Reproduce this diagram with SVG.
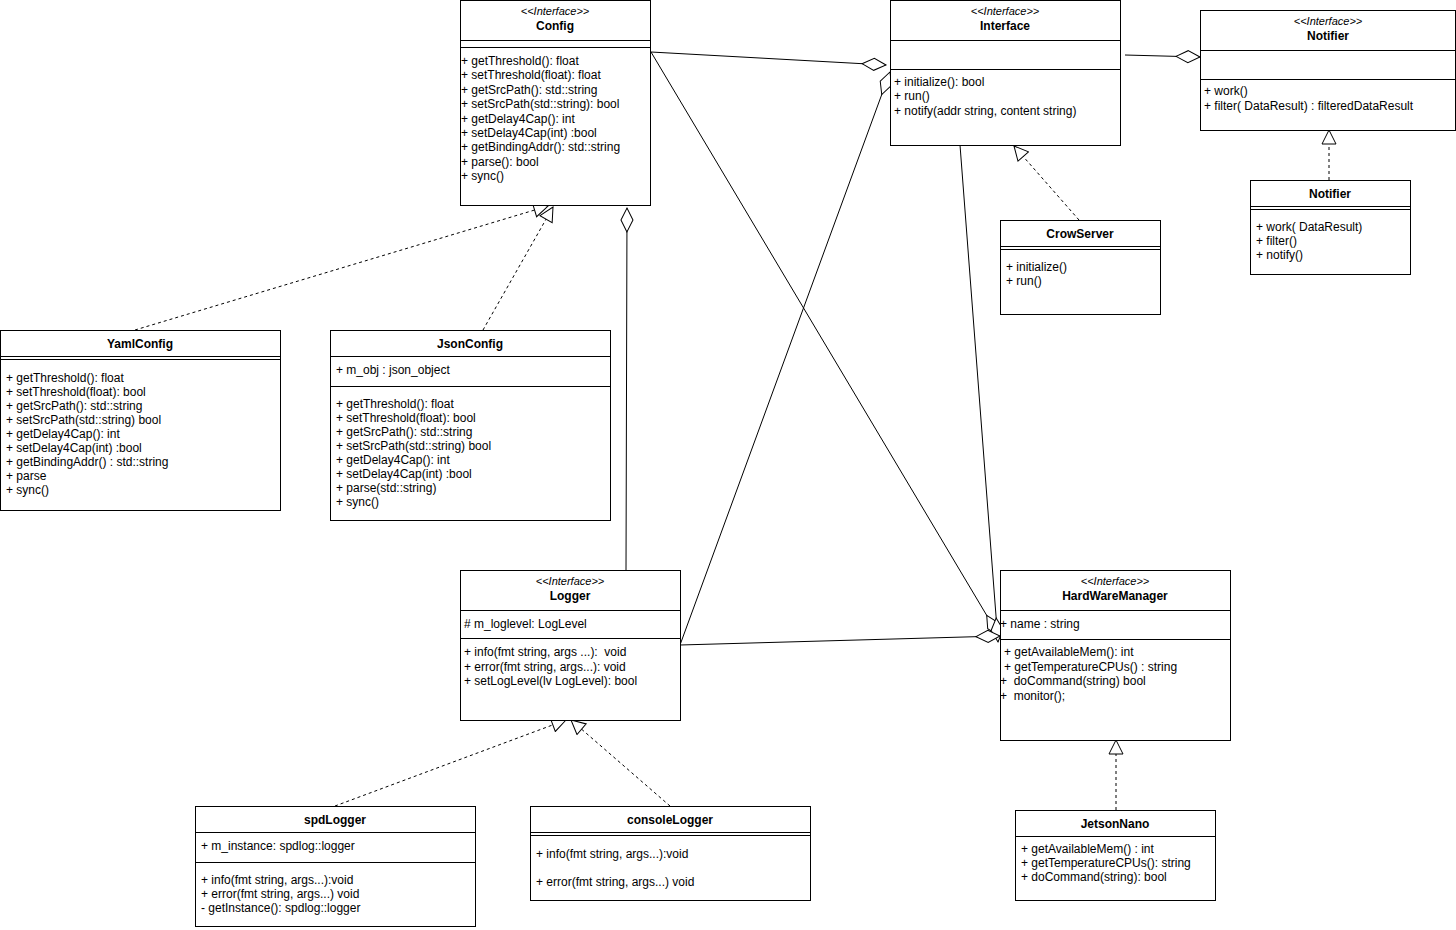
<svg xmlns="http://www.w3.org/2000/svg" width="1456" height="930" viewBox="0 0 1456 930">
<defs>
<style>
.box{fill:#fff;stroke:#000;stroke-width:1}
.sep{stroke:#000;stroke-width:1}
text{font-family:"Liberation Sans",Arial,sans-serif;font-size:12px;fill:#000;white-space:pre}
.st{font-style:italic;font-size:11px;text-anchor:middle}
.ti{font-weight:bold;text-anchor:middle}
.c{fill:none;stroke:#000;stroke-width:1}
.d{stroke-dasharray:3,3}
</style>
<marker id="tri" markerUnits="userSpaceOnUse" markerWidth="18" markerHeight="16" viewBox="0 0 18 16" refX="16" refY="8" orient="auto">
<path d="M2,1 L16,8 L2,15 Z" fill="#fff" stroke="#000" stroke-width="1"/>
</marker>
<marker id="dia" markerUnits="userSpaceOnUse" markerWidth="28" markerHeight="16" viewBox="0 0 28 16" refX="26" refY="8" orient="auto">
<path d="M2,8 L14,2 L26,8 L14,14 Z" fill="#fff" stroke="#000" stroke-width="1"/>
</marker>
</defs>

<g id="connectors">
<path class="c d" d="M135,330 L548,206" marker-end="url(#tri)"/>
<path class="c d" d="M483,330 L553,207" marker-end="url(#tri)"/>
<path class="c" d="M626,570 L627,208" marker-end="url(#dia)"/>
<path class="c" d="M651,52 L886,65" marker-end="url(#dia)"/>
<path class="c" d="M680,645 L890,72" marker-end="url(#dia)"/>
<path class="c" d="M651,52 L999,636" marker-end="url(#dia)"/>
<path class="c" d="M960,145 L998,642" marker-end="url(#dia)"/>
<path class="c" d="M680,645 L1000,636" marker-end="url(#dia)"/>
<path class="c d" d="M1079,220 L1014,146" marker-end="url(#tri)"/>
<path class="c" d="M1125,55 L1200,57" marker-end="url(#dia)"/>
<path class="c d" d="M1329,180 L1329,130" marker-end="url(#tri)"/>
<path class="c d" d="M1116,810 L1116,740" marker-end="url(#tri)"/>
<path class="c d" d="M335,806 L566,720" marker-end="url(#tri)"/>
<path class="c d" d="M670,806 L571,720" marker-end="url(#tri)"/>
</g>

<g id="config">
<rect class="box" x="460.5" y="0.5" width="190" height="205"/>
<line class="sep" x1="460.5" y1="40.5" x2="650.5" y2="40.5"/>
<line class="sep" x1="460.5" y1="47.5" x2="650.5" y2="47.5"/>
<text class="st" x="555" y="15">&lt;&lt;Interface&gt;&gt;</text>
<text class="ti" x="555" y="30">Config</text>
<text x="461" y="65">+ getThreshold(): float</text>
<text x="461" y="79">+ setThreshold(float): float</text>
<text x="461" y="94">+ getSrcPath(): std::string</text>
<text x="461" y="108">+ setSrcPath(std::string): bool</text>
<text x="461" y="123">+ getDelay4Cap(): int</text>
<text x="461" y="137">+ setDelay4Cap(int) :bool</text>
<text x="461" y="151">+ getBindingAddr(): std::string</text>
<text x="461" y="166">+ parse(): bool</text>
<text x="461" y="180">+ sync()</text>
</g>

<g id="interface">
<rect class="box" x="890.5" y="0.5" width="230" height="145"/>
<line class="sep" x1="890.5" y1="40.5" x2="1120.5" y2="40.5"/>
<line class="sep" x1="890.5" y1="69.5" x2="1120.5" y2="69.5"/>
<text class="st" x="1005" y="15">&lt;&lt;Interface&gt;&gt;</text>
<text class="ti" x="1005" y="30">Interface</text>
<text x="894" y="86">+ initialize(): bool</text>
<text x="894" y="100">+ run()</text>
<text x="894" y="115">+ notify(addr string, content string)</text>
</g>

<g id="notifier-interface">
<rect class="box" x="1200.5" y="10.5" width="255" height="120"/>
<line class="sep" x1="1200.5" y1="50.5" x2="1455.5" y2="50.5"/>
<line class="sep" x1="1200.5" y1="79.5" x2="1455.5" y2="79.5"/>
<text class="st" x="1328" y="25">&lt;&lt;Interface&gt;&gt;</text>
<text class="ti" x="1328" y="40">Notifier</text>
<text x="1204" y="95">+ work()</text>
<text x="1204" y="110">+ filter( DataResult) : filteredDataResult</text>
</g>

<g id="notifier">
<rect class="box" x="1250.5" y="180.5" width="160" height="94"/>
<line class="sep" x1="1250.5" y1="206.5" x2="1410.5" y2="206.5"/>
<line class="sep" x1="1250.5" y1="209.5" x2="1410.5" y2="209.5"/>
<text class="ti" x="1330" y="198">Notifier</text>
<text x="1256" y="231">+ work( DataResult)</text>
<text x="1256" y="245">+ filter()</text>
<text x="1256" y="259">+ notify()</text>
</g>

<g id="crowserver">
<rect class="box" x="1000.5" y="220.5" width="160" height="94"/>
<line class="sep" x1="1000.5" y1="246.5" x2="1160.5" y2="246.5"/>
<line class="sep" x1="1000.5" y1="249.5" x2="1160.5" y2="249.5"/>
<text class="ti" x="1080" y="238">CrowServer</text>
<text x="1006" y="271">+ initialize()</text>
<text x="1006" y="285">+ run()</text>
</g>

<g id="yamlconfig">
<rect class="box" x="0.5" y="330.5" width="280" height="180"/>
<line class="sep" x1="0.5" y1="356.5" x2="280.5" y2="356.5"/>
<line class="sep" x1="0.5" y1="359.5" x2="280.5" y2="359.5"/>
<text class="ti" x="140" y="348">YamlConfig</text>
<text x="6" y="382">+ getThreshold(): float</text>
<text x="6" y="396">+ setThreshold(float): bool</text>
<text x="6" y="410">+ getSrcPath(): std::string</text>
<text x="6" y="424">+ setSrcPath(std::string) bool</text>
<text x="6" y="438">+ getDelay4Cap(): int</text>
<text x="6" y="452">+ setDelay4Cap(int) :bool</text>
<text x="6" y="466">+ getBindingAddr() : std::string</text>
<text x="6" y="480">+ parse</text>
<text x="6" y="494">+ sync()</text>
</g>

<g id="jsonconfig">
<rect class="box" x="330.5" y="330.5" width="280" height="190"/>
<line class="sep" x1="330.5" y1="356.5" x2="610.5" y2="356.5"/>
<line class="sep" x1="330.5" y1="386.5" x2="610.5" y2="386.5"/>
<text class="ti" x="470" y="348">JsonConfig</text>
<text x="336" y="374">+ m_obj : json_object</text>
<text x="336" y="408">+ getThreshold(): float</text>
<text x="336" y="422">+ setThreshold(float): bool</text>
<text x="336" y="436">+ getSrcPath(): std::string</text>
<text x="336" y="450">+ setSrcPath(std::string) bool</text>
<text x="336" y="464">+ getDelay4Cap(): int</text>
<text x="336" y="478">+ setDelay4Cap(int) :bool</text>
<text x="336" y="492">+ parse(std::string)</text>
<text x="336" y="506">+ sync()</text>
</g>

<g id="logger">
<rect class="box" x="460.5" y="570.5" width="220" height="150"/>
<line class="sep" x1="460.5" y1="610.5" x2="680.5" y2="610.5"/>
<line class="sep" x1="460.5" y1="638.5" x2="680.5" y2="638.5"/>
<text class="st" x="570" y="585">&lt;&lt;Interface&gt;&gt;</text>
<text class="ti" x="570" y="600">Logger</text>
<text x="464" y="628"># m_loglevel: LogLevel</text>
<text x="464" y="656">+ info(fmt string, args ...):  void</text>
<text x="464" y="671">+ error(fmt string, args...): void</text>
<text x="464" y="685">+ setLogLevel(lv LogLevel): bool</text>
</g>

<g id="hardwaremanager">
<rect class="box" x="1000.5" y="570.5" width="230" height="170"/>
<line class="sep" x1="1000.5" y1="610.5" x2="1230.5" y2="610.5"/>
<line class="sep" x1="1000.5" y1="639.5" x2="1230.5" y2="639.5"/>
<text class="st" x="1115" y="585">&lt;&lt;Interface&gt;&gt;</text>
<text class="ti" x="1115" y="600">HardWareManager</text>
<text x="1000" y="628">+ name : string</text>
<text x="1004" y="656">+ getAvailableMem(): int</text>
<text x="1004" y="671">+ getTemperatureCPUs() : string</text>
<text x="1000" y="685">+  doCommand(string) bool</text>
<text x="1000" y="700">+  monitor();</text>
</g>

<g id="spdlogger">
<rect class="box" x="195.5" y="806.5" width="280" height="120"/>
<line class="sep" x1="195.5" y1="832.5" x2="475.5" y2="832.5"/>
<line class="sep" x1="195.5" y1="862.5" x2="475.5" y2="862.5"/>
<text class="ti" x="335" y="824">spdLogger</text>
<text x="201" y="850">+ m_instance: spdlog::logger</text>
<text x="201" y="884">+ info(fmt string, args...):void</text>
<text x="201" y="898">+ error(fmt string, args...) void</text>
<text x="201" y="912">- getInstance(): spdlog::logger</text>
</g>

<g id="consolelogger">
<rect class="box" x="530.5" y="806.5" width="280" height="94"/>
<line class="sep" x1="530.5" y1="832.5" x2="810.5" y2="832.5"/>
<line class="sep" x1="530.5" y1="835.5" x2="810.5" y2="835.5"/>
<text class="ti" x="670" y="824">consoleLogger</text>
<text x="536" y="858">+ info(fmt string, args...):void</text>
<text x="536" y="886">+ error(fmt string, args...) void</text>
</g>

<g id="jetsonnano">
<rect class="box" x="1015.5" y="810.5" width="200" height="90"/>
<line class="sep" x1="1015.5" y1="836.5" x2="1215.5" y2="836.5"/>
<text class="ti" x="1115" y="828">JetsonNano</text>
<text x="1021" y="853">+ getAvailableMem() : int</text>
<text x="1021" y="867">+ getTemperatureCPUs(): string</text>
<text x="1021" y="881">+ doCommand(string): bool</text>
</g>
</svg>
